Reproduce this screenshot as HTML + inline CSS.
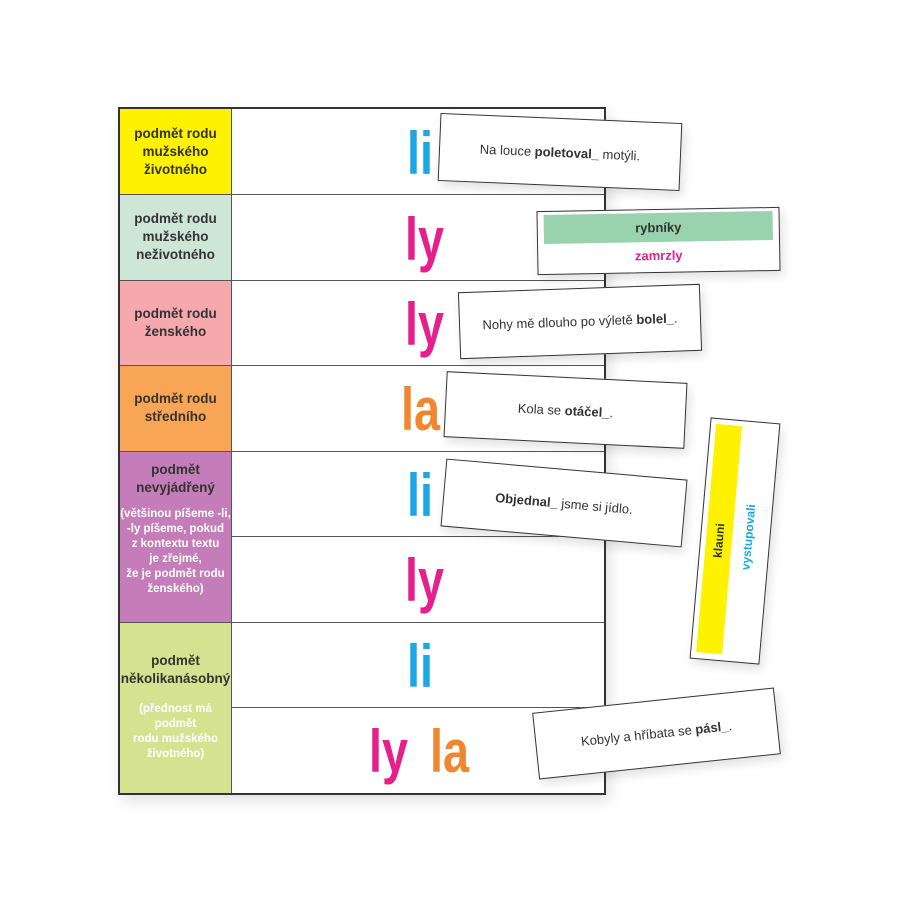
<!DOCTYPE html>
<html><head><meta charset="utf-8"><style>
body{margin:0;width:900px;height:900px;background:#fff;position:relative;overflow:hidden;font-family:"Liberation Sans",sans-serif}
.tbl{position:absolute;left:118px;top:107px;width:484px;height:684px;border:2px solid #333;box-shadow:4px 6px 14px rgba(0,0,0,.12);background:#fff}
.lab{position:absolute;left:0;width:112px;border-right:1px solid #555;color:#333;font-weight:bold;font-size:13.5px;text-align:center;line-height:18px;display:flex;flex-direction:column;justify-content:center;box-sizing:border-box}
.hl{position:absolute;left:112px;right:0;border-top:1px solid #555}
.big{position:absolute;font-size:60px;font-weight:bold;transform:scaleX(0.78);transform-origin:left top;letter-spacing:0}
.b{color:#1ba6e4}.p{color:#e5208c}.o{color:#f08630}
.card{position:absolute;background:#fff;border:1.5px solid #333;box-shadow:3px 5px 10px rgba(0,0,0,.12);display:flex;align-items:center;justify-content:center;font-size:13px;color:#333;box-sizing:border-box}
.small{font-size:11.5px;font-weight:bold;line-height:15px}
</style></head><body>
<div class="tbl">
 <div class="lab" style="top:0;height:85px;background:#fff200">podmět rodu<br>mužského<br>životného</div>
 <div class="lab" style="top:85px;height:86px;background:#cde6d5">podmět rodu<br>mužského<br>neživotného</div>
 <div class="lab" style="top:171px;height:85px;background:#f5a9ac">podmět rodu<br>ženského</div>
 <div class="lab" style="top:256px;height:86px;background:#f8a655">podmět rodu<br>středního</div>
 <div class="lab" style="top:342px;height:171px;background:#c47db8;justify-content:flex-start;padding-top:10px">podmět<br>nevyjádřený<div class="small" style="color:#fff;margin-top:10px">(většinou píšeme -li,<br>-ly píšeme, pokud<br>z kontextu textu<br>je zřejmé,<br>že je podmět rodu<br>ženského)</div></div>
 <div class="lab" style="top:513px;height:171px;background:#d5e28f;justify-content:flex-start;padding-top:30px">podmět<br>několikanásobný<div class="small" style="color:#fff;margin-top:14px">(přednost má<br>podmět<br>rodu mužského<br>životného)</div></div>
 <div class="hl" style="top:85px;left:0"></div><div class="hl" style="top:171px;left:0"></div><div class="hl" style="top:256px;left:0"></div><div class="hl" style="top:342px;left:0"></div>
 <div class="hl" style="top:427px"></div><div class="hl" style="top:513px;left:0"></div><div class="hl" style="top:598px"></div>
 <div class="big b" style="left:287px;top:10px">li</div>
 <div class="big p" style="left:285px;top:96px">ly</div>
 <div class="big p" style="left:285px;top:181px">ly</div>
 <div class="big o" style="left:281px;top:266px">la</div>
 <div class="big b" style="left:287px;top:352px">li</div>
 <div class="big p" style="left:285px;top:437px">ly</div>
 <div class="big b" style="left:287px;top:523px">li</div>
 <div class="big p" style="left:249px;top:608px">ly</div>
 <div class="big o" style="left:310px;top:608px">la</div>
</div>
<div class="card" style="left:439px;top:118px;width:242px;height:68px;transform:rotate(2.4deg)"><span>Na louce <b>poletoval_</b> motýli.</span></div>
<div class="card" style="left:537px;top:209px;width:243px;height:64px;transform:rotate(-1deg);flex-direction:column;justify-content:flex-start">
 <div style="margin-top:3px;width:229px;height:29px;background:#98d3ae;font-weight:bold;display:flex;align-items:center;justify-content:center">rybníky</div>
 <div style="color:#e5208c;font-weight:bold;margin-top:6px">zamrzly</div></div>
<div class="card" style="left:459px;top:288px;width:242px;height:67px;transform:rotate(-2deg)"><span>Nohy mě dlouho po výletě <b>bolel_</b>.</span></div>
<div class="card" style="left:445px;top:377px;width:241px;height:66px;transform:rotate(2.8deg)"><span>Kola se <b>otáčel_</b>.</span></div>
<div class="card" style="left:443px;top:469px;width:242px;height:68px;transform:rotate(5deg)"><span><b>Objednal_</b> jsme si jídlo.</span></div>
<div class="card" style="left:700px;top:420px;width:70px;height:242px;transform:rotate(5deg);justify-content:flex-start">
 <div style="position:absolute;left:5px;top:5px;width:26px;height:229px;background:#fff200"></div>
 <div style="position:absolute;left:18px;top:121px;transform:translate(-50%,-50%) rotate(-90deg);font-weight:bold;font-size:12px;color:#333">klauni</div>
 <div style="position:absolute;left:47px;top:115px;transform:translate(-50%,-50%) rotate(-90deg);font-weight:bold;font-size:12px;color:#1ba6e4">vystupovali</div>
</div>
<div class="card" style="left:535px;top:700px;width:243px;height:67px;transform:rotate(-6deg)"><span>Kobyly a hříbata se <b>pásl_</b>.</span></div>
</body></html>
